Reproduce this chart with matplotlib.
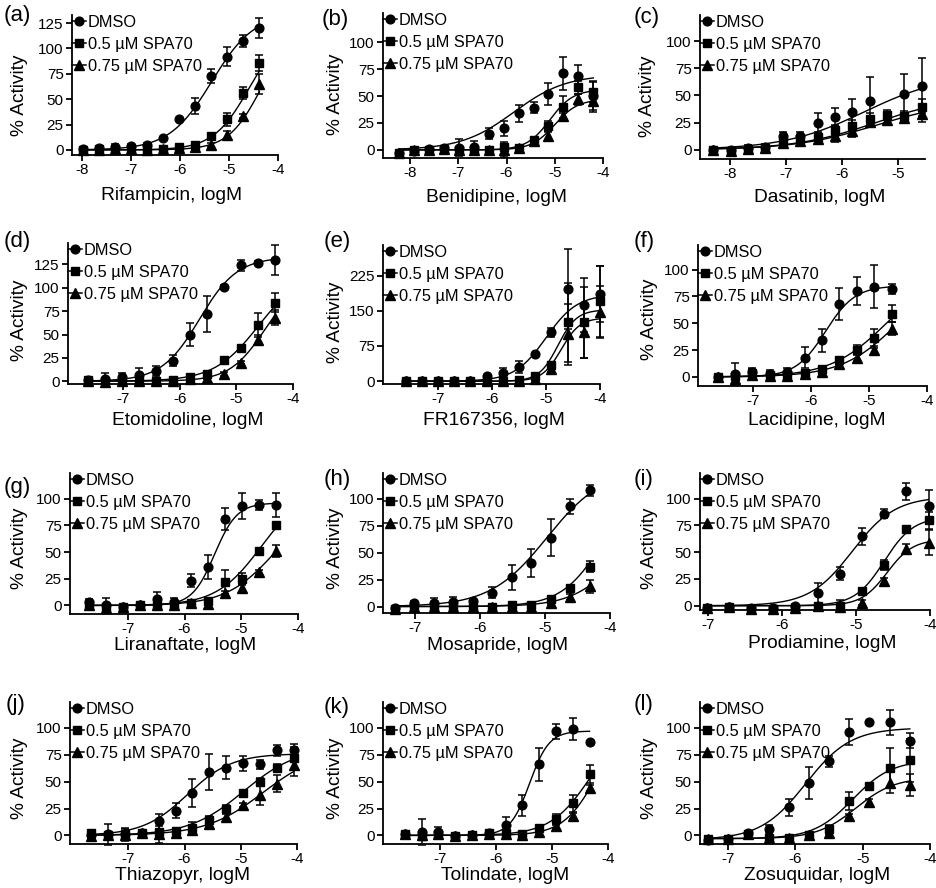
import numpy as np
import matplotlib.pyplot as plt
from matplotlib.lines import Line2D

plt.rcParams['font.family'] = ['Liberation Sans', 'DejaVu Sans']

W, H = 936, 888
SERIES = ['DMSO', '0.5 µM SPA70', '0.75 µM SPA70']
MARKERS = ['o', 's', '^']
MSIZE = [6.3, 5.8, 6.6]

# (a) Rifampicin
rif_x = [-7.98, -7.65, -7.33, -7.0, -6.67, -6.35, -6.02, -5.69, -5.36, -5.04, -4.71, -4.38]
rif_dmso = [1, 2, 3, 4, 5, 12, 30, 43, 73, 92, 107, 120]
rif_dmso_err = [2, 2, 3, 2, 2, 1, 1, 8, 7, 9, 6, 10]
rif_sp05 = [0, 1, 1, 1, 1, 1, 3, 5, 14, 30, 56, 86]
rif_sp05_err = [1, 1, 1, 1, 1, 1, 2, 2, 3, 6, 6, 8]
rif_sp075 = [0, 0, 1, 1, 0, 1, 2, 3, 5, 15, 33, 65]
rif_sp075_err = [1, 1, 1, 1, 1, 1, 1, 1, 2, 4, 2, 10]
rif_fit = [(0, 135, -5.35, 1.0), (0, 120, -4.6, 1.2), (0, 120, -4.35, 1.3)]

# (b) Benidipine
ben_x = [-8.23, -7.92, -7.61, -7.30, -6.99, -6.68, -6.37, -6.06, -5.75, -5.44, -5.13, -4.82, -4.51, -4.20]
ben_dmso = [-3, -1, 1, 2, 2, 3, 15, 20, 34, 39, 52, 71, 69, 50]
ben_dmso_err = [2, 1, 2, 2, 8, 5, 5, 7, 8, 5, 10, 15, 10, 13]
ben_sp05 = [-3, 0, 0, 1, 0, 0, 0, 3, 2, 9, 22, 40, 58, 54]
ben_sp05_err = [2, 1, 1, 1, 2, 1, 1, 2, 1, 2, 5, 10, 6, 10]
ben_sp075 = [-3, 0, 0, 1, 0, 0, 0, 0, 2, 8, 13, 31, 47, 45]
ben_sp075_err = [1, 1, 1, 1, 1, 1, 1, 7, 1, 2, 5, 3, 5, 10]
ben_fit = [(0, 70, -5.85, 0.8), (0, 56, -5.1, 1.8), (0, 47, -5.0, 1.8)]

# (c) Dasatinib
das_x = [-8.3, -7.99, -7.68, -7.37, -7.06, -6.75, -6.44, -6.13, -5.82, -5.51, -5.2, -4.89, -4.58]
das_dmso = [0, 0, 2, 3, 13, 13, 25, 30, 35, 45, np.nan, 51, 59]
das_dmso_err = [1, 1, 2, 2, 3, 3, 9, 8, 12, 22, np.nan, 19, 25]
das_sp05 = [0, -1, 1, 2, 8, 10, 12, 18, 22, 28, 32, 31, 39]
das_sp05_err = [1, 1, 1, 2, 3, 3, 3, 5, 5, 6, 5, 5, 8]
das_sp075 = [0, -1, 1, 2, 6, 8, 10, 13, 17, 26, 27, 29, 33]
das_sp075_err = [1, 1, 1, 2, 2, 2, 3, 6, 5, 5, 4, 4, 7]
das_fit = [(0, 70, -5.6, 0.6), (0, 50, -5.4, 0.6), (0, 45, -5.4, 0.6)]

# (d) Etomidoline
eto_x = [-7.62, -7.32, -7.02, -6.72, -6.42, -6.12, -5.82, -5.52, -5.22, -4.92, -4.62, -4.32]
eto_dmso = [1, 2, 5, 7, 11, 22, 50, 72, 101, 124, 127, 130]
eto_dmso_err = [2, 7, 4, 7, 5, 6, 12, 19, 2, 6, 2, 16]
eto_sp05 = [1, 0, 0, 0, 0, 1, 4, 8, 23, 36, 60, 84]
eto_sp05_err = [1, 1, 1, 1, 1, 1, 2, 2, 2, 3, 13, 10]
eto_sp075 = [0, -1, 0, 0, 0, 0, 2, 3, 8, 20, 44, 68]
eto_sp075_err = [1, 1, 1, 1, 1, 1, 1, 1, 2, 2, 5, 8]
eto_fit = [(0, 133, -5.65, 1.3), (0, 120, -4.6, 1.1), (0, 110, -4.5, 1.4)]

# (e) FR167356
fr_x = [-7.6, -7.3, -7.0, -6.7, -6.4, -6.1, -5.8, -5.5, -5.2, -4.9, -4.6, -4.3, -4.0]
fr_dmso = [0, 0, 0, 0, 1, 10, 18, 31, 58, 104, 196, 162, 185]
fr_dmso_err = [1, 1, 1, 1, 1, 4, 10, 13, 3, 10, 85, 58, 60]
fr_sp05 = [0, 0, 0, 0, 0, 0, 0, 3, 10, 35, 125, 125, 170]
fr_sp05_err = [1, 1, 1, 1, 1, 1, 1, 2, 3, 5, 85, 75, 75]
fr_sp075 = [0, 0, 0, 0, 0, 0, 0, 1, 5, 25, 100, 105, 148]
fr_sp075_err = [1, 1, 1, 1, 1, 1, 1, 1, 2, 5, 65, 55, 55]
fr_fit = [(0, 185, -5.0, 1.5), (0, 152, -4.78, 2.5), (0, 135, -4.72, 2.5)]

# (f) Lacidipine
lac_x = [-7.61, -7.31, -7.01, -6.71, -6.41, -6.11, -5.81, -5.51, -5.21, -4.91, -4.61]
lac_dmso = [0, 3, 5, 3, 5, 18, 34, 68, 80, 84, 82]
lac_dmso_err = [2, 10, 3, 3, 3, 10, 11, 15, 13, 20, 5]
lac_sp05 = [0, 1, 4, 2, 2, 4, 7, 16, 25, 36, 59]
lac_sp05_err = [2, 2, 3, 2, 1, 1, 2, 3, 5, 9, 8]
lac_sp075 = [0, -2, 2, 1, 1, 3, 5, 12, 18, 25, 45]
lac_sp075_err = [2, 6, 2, 2, 1, 1, 2, 2, 3, 4, 6]
lac_fit = [(0, 85, -5.75, 1.7), (0, 100, -4.7, 0.9), (0, 100, -4.5, 0.9)]

# (g) Liranaftate
lir_x = [-7.68, -7.38, -7.08, -6.78, -6.48, -6.18, -5.88, -5.58, -5.28, -4.98, -4.68, -4.38]
lir_dmso = [3, 0, -1, 0, 6, 3, 23, 36, 81, 93, 94, 94]
lir_dmso_err = [3, 7, 2, 2, 7, 4, 6, 11, 10, 12, 5, 11]
lir_sp05 = [1, -1, -1, 0, 0, 1, 2, 4, 22, 25, 51, 75]
lir_sp05_err = [2, 2, 2, 1, 1, 1, 1, 2, 11, 5, 1, 2]
lir_sp075 = [0, -2, -1, 0, 0, 0, 2, 1, 12, 16, 31, 51]
lir_sp075_err = [1, 1, 1, 1, 1, 1, 1, 1, 2, 3, 2, 6]
lir_fit = [(0, 96, -5.47, 2.2), (0, 110, -4.65, 1.1), (0, 100, -4.4, 1.0)]

# (h) Mosapride
mos_x = [-7.31, -7.01, -6.71, -6.41, -6.11, -5.81, -5.51, -5.21, -4.91, -4.61, -4.31]
mos_dmso = [-1, 3, 3, 4, 5, 13, 27, 40, 64, 93, 108]
mos_dmso_err = [1, 2, 5, 5, 2, 5, 12, 13, 17, 7, 5]
mos_sp05 = [-2, 0, 0, 0, 0, 0, 1, 1, 7, 17, 37]
mos_sp05_err = [1, 1, 1, 1, 1, 1, 1, 1, 2, 3, 5]
mos_sp075 = [-2, 0, 0, 0, 0, 0, 0, 0, 3, 9, 19]
mos_sp075_err = [1, 1, 1, 1, 1, 1, 1, 1, 2, 3, 6]
mos_fit = [(0, 128, -4.97, 1.0), (0, 120, -4.1, 1.35), (0, 100, -3.8, 1.2)]

# (i) Prodiamine
pro_x = [-7.02, -6.72, -6.42, -6.12, -5.82, -5.52, -5.22, -4.92, -4.62, -4.32, -4.02]
pro_dmso = [-2, -1, -2, -2, 0, 12, 30, 65, 86, 107, 93]
pro_dmso_err = [1, 1, 2, 1, 2, 9, 6, 8, 4, 8, 15]
pro_sp05 = [-2, -1, -3, -3, -2, 0, 0, 14, 38, 72, 80]
pro_sp05_err = [1, 1, 1, 1, 1, 1, 5, 3, 5, 2, 8]
pro_sp075 = [-2, -1, -3, -3, -2, 0, -1, 3, 23, 53, 59]
pro_sp075_err = [1, 1, 1, 1, 1, 1, 2, 2, 3, 5, 12]
pro_fit = [(0, 102, -5.05, 1.5), (0, 83, -4.62, 2.2), (0, 62, -4.58, 2.5)]

# (j) Thiazopyr
thi_x = [-7.66, -7.36, -7.06, -6.76, -6.46, -6.16, -5.86, -5.56, -5.26, -4.96, -4.66, -4.36, -4.06]
thi_dmso = [0, 1, 1, 2, 13, 23, 39, 59, 63, 67, 66, 79, 79]
thi_dmso_err = [3, 10, 6, 2, 7, 7, 13, 17, 11, 7, 4, 5, 6]
thi_sp05 = [2, 0, 1, 2, 3, 4, 7, 14, 25, 39, 50, 63, 72]
thi_sp05_err = [3, 2, 5, 1, 2, 3, 5, 4, 3, 2, 3, 3, 10]
thi_sp075 = [-1, 0, 0, 2, 1, 2, 5, 11, 17, 28, 38, 48, 65]
thi_sp075_err = [2, 2, 3, 1, 8, 3, 5, 3, 3, 2, 10, 8, 10]
thi_fit = [(0, 76, -5.95, 1.1), (0, 82, -4.95, 0.9), (0, 80, -4.6, 0.85)]

# (k) Tolindate
tol_x = [-7.63, -7.33, -7.03, -6.73, -6.43, -6.13, -5.83, -5.53, -5.23, -4.93, -4.63, -4.33]
tol_dmso = [1, 3, 3, -1, 0, 2, 10, 28, 66, 97, 99, 87]
tol_dmso_err = [2, 12, 5, 3, 2, 2, 7, 10, 15, 7, 10, 0]
tol_sp05 = [1, -1, 1, -1, 0, 2, 2, 1, 7, 15, 30, 57]
tol_sp05_err = [1, 2, 1, 1, 1, 1, 1, 1, 2, 5, 8, 8]
tol_sp075 = [1, 0, 1, -1, 0, 1, 1, 0, 3, 9, 18, 44]
tol_sp075_err = [1, 1, 1, 1, 1, 1, 1, 1, 2, 2, 3, 3]
tol_fit = [(0, 97, -5.4, 2.5), (0, 110, -4.3, 1.2), (0, 110, -4.2, 1.45)]

# (l) Zosuquidar
zos_x = [-7.3, -7.0, -6.7, -6.4, -6.1, -5.8, -5.5, -5.2, -4.9, -4.6, -4.3]
zos_dmso = [-4, -3, 2, 6, 26, 49, 69, 96, 105, 105, 88]
zos_dmso_err = [2, 2, 2, 4, 8, 15, 5, 12, 1, 12, 7]
zos_sp05 = [-3, -3, 1, -2, -2, 0, 6, 32, 46, 63, 70]
zos_sp05_err = [1, 1, 1, 1, 1, 1, 4, 8, 2, 18, 20]
zos_sp075 = [-3, -3, 1, -2, -2, 0, 2, 18, 31, 49, 47]
zos_sp075_err = [1, 1, 1, 1, 1, 1, 2, 2, 3, 10, 10]
zos_fit = [(-4, 100, -5.85, 1.3), (-3, 70, -5.15, 1.5), (-3, 54, -5.1, 1.5)]

# panel table: tag, drug, data, axis rect in px (left, right, top, bottom), limits, ticks,
# label positions in px (ylabel centre, xlabel centre, tag position)
panels = [
    ('(a)', 'Rifampicin', rif_x, [rif_dmso, rif_sp05, rif_sp075], [rif_dmso_err, rif_sp05_err, rif_sp075_err], rif_fit,
     (72, 278, 15, 155), (-8.2, -4), (-5, 133), [-8, -7, -6, -5, -4], [0, 25, 50, 75, 100, 125],
     (20, 95), (172, 195), (4, 16)),
    ('(b)', 'Benidipine', ben_x, [ben_dmso, ben_sp05, ben_sp075], [ben_dmso_err, ben_sp05_err, ben_sp075_err], ben_fit,
     (383, 603, 13, 158), (-8.56, -4), (-7.5, 127), [-8, -7, -6, -5, -4], [0, 25, 50, 75, 100],
     (335, 94), (497, 197), (322, 19)),
    ('(c)', 'Dasatinib', das_x, [das_dmso, das_sp05, das_sp075], [das_dmso_err, das_sp05_err, das_sp075_err], das_fit,
     (700, 925, 15, 159), (-8.54, -4.52), (-8.5, 124), [-8, -7, -6, -5], [0, 25, 50, 75, 100],
     (647, 96), (820, 197), (634, 17)),
    ('(d)', 'Etomidoline', eto_x, [eto_dmso, eto_sp05, eto_sp075], [eto_dmso_err, eto_sp05_err, eto_sp075_err], eto_fit,
     (68, 293, 243, 384), (-7.97, -4), (-3, 148), [-7, -6, -5, -4], [0, 25, 50, 75, 100, 125],
     (19, 320), (188, 420), (4, 242)),
    ('(e)', 'FR167356', fr_x, [fr_dmso, fr_sp05, fr_sp075], [fr_dmso_err, fr_sp05_err, fr_sp075_err], fr_fit,
     (383, 600, 245, 384), (-8.02, -4), (-6, 290), [-7, -6, -5, -4], [0, 75, 150, 225],
     (335, 322), (494, 420), (324, 242)),
    ('(f)', 'Lacidipine', lac_x, [lac_dmso, lac_sp05, lac_sp075], [lac_dmso_err, lac_sp05_err, lac_sp075_err], lac_fit,
     (698, 927, 245, 386), (-7.95, -4), (-8.5, 123), [-7, -6, -5, -4], [0, 25, 50, 75, 100],
     (650, 319), (817, 420), (634, 242)),
    ('(g)', 'Liranaftate', lir_x, [lir_dmso, lir_sp05, lir_sp075], [lir_dmso_err, lir_sp05_err, lir_sp075_err], lir_fit,
     (70, 298, 473, 614), (-8.02, -4), (-8, 124), [-7, -6, -5, -4], [0, 25, 50, 75, 100],
     (20, 548), (185, 645), (4, 487)),
    ('(h)', 'Mosapride', mos_x, [mos_dmso, mos_sp05, mos_sp075], [mos_dmso_err, mos_sp05_err, mos_sp075_err], mos_fit,
     (383, 610, 473, 613), (-7.49, -4), (-6, 124), [-7, -6, -5, -4], [0, 25, 50, 75, 100],
     (335, 548), (498, 645), (324, 479)),
    ('(i)', 'Prodiamine', pro_x, [pro_dmso, pro_sp05, pro_sp075], [pro_dmso_err, pro_sp05_err, pro_sp075_err], pro_fit,
     (700, 930, 473, 610), (-7.11, -4), (-4, 124), [-7, -6, -5, -4], [0, 25, 50, 75, 100],
     (650, 548), (822, 643), (634, 479)),
    ('(j)', 'Thiazopyr', thi_x, [thi_dmso, thi_sp05, thi_sp075], [thi_dmso_err, thi_sp05_err, thi_sp075_err], thi_fit,
     (70, 297, 702, 844), (-8.04, -4), (-8, 124), [-7, -6, -5, -4], [0, 25, 50, 75, 100],
     (20, 778), (183, 875), (6, 704)),
    ('(k)', 'Tolindate', tol_x, [tol_dmso, tol_sp05, tol_sp075], [tol_dmso_err, tol_sp05_err, tol_sp075_err], tol_fit,
     (383, 608, 702, 844), (-8.02, -4), (-8, 124), [-7, -6, -5, -4], [0, 25, 50, 75, 100],
     (335, 778), (505, 875), (324, 707)),
    ('(l)', 'Zosuquidar', zos_x, [zos_dmso, zos_sp05, zos_sp075], [zos_dmso_err, zos_sp05_err, zos_sp075_err], zos_fit,
     (700, 930, 702, 844), (-7.42, -4), (-8, 124), [-7, -6, -5, -4], [0, 25, 50, 75, 100],
     (650, 778), (817, 875), (634, 704)),
]


def hill(x, bottom, top, logec50, slope):
    return bottom + (top - bottom) / (1 + 10 ** ((logec50 - x) * slope))


fig = plt.figure(figsize=(W / 100, H / 100), dpi=100)

for (tag, drug, xs, ys, errs, fits, rect, xlim, ylim, xticks, yticks,
     ylab_pos, xlab_pos, tag_pos) in panels:
    l, r, t, b = rect
    ax = fig.add_axes([l / W, 1 - b / H, (r - l) / W, (b - t) / H])
    ax.patch.set_alpha(0)
    for y, e, fit, m, ms in zip(ys, errs, fits, MARKERS, MSIZE):
        eb = ax.errorbar(xs, y, yerr=e, fmt=m, color='black', ms=ms, capsize=3,
                         elinewidth=1.1, capthick=1.1)
        for art in eb.get_children():
            art.set_clip_on(False)
        xc = np.linspace(min(xs), max(xs), 200)
        ax.plot(xc, hill(xc, *fit), color='black', lw=1.0, clip_on=False)
    ax.set_xlim(*xlim)
    ax.set_ylim(*ylim)
    ax.set_xticks(xticks)
    ax.set_yticks(yticks)
    ax.set_xticklabels([str(v) for v in xticks])
    for s in ['top', 'right']:
        ax.spines[s].set_visible(False)
    for s in ['left', 'bottom']:
        ax.spines[s].set_linewidth(1.3)
    ax.tick_params(direction='out', length=4, width=1.3, labelsize=11, pad=2)

    handles = [Line2D([], [], color='black', lw=1.1, marker=m, ms=ms)
               for m, ms in zip(MARKERS, MSIZE)]
    ax.legend(handles, SERIES, loc='upper left', bbox_to_anchor=(0, 1), frameon=False,
              fontsize=11.8, handlelength=0.85, handletextpad=0.12, borderpad=0,
              borderaxespad=0, labelspacing=0.42, numpoints=1)

    fig.text(ylab_pos[0] / W, 1 - ylab_pos[1] / H, '% Activity', rotation=90,
             ha='center', va='center', fontsize=13.8)
    fig.text(xlab_pos[0] / W, 1 - xlab_pos[1] / H, f'{drug}, logM',
             ha='center', va='center', fontsize=13.8)
    fig.text(tag_pos[0] / W, 1 - tag_pos[1] / H, tag, ha='left', va='center', fontsize=16)

fig.savefig('out.png', dpi=100)
